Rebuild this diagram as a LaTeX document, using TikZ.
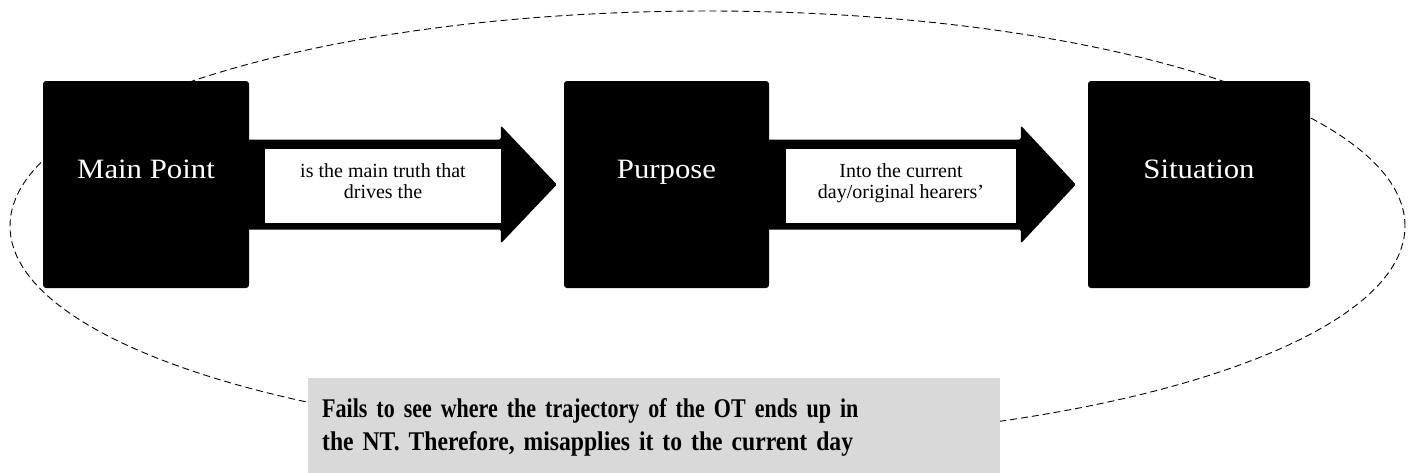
\documentclass[tikz,border=0pt]{standalone}
\usepackage{fontspec}
\setmainfont{Liberation Serif}
\newfontfamily\blockfont[FakeStretch=1.1]{Liberation Serif}
\newfontfamily\failfontA[FakeStretch=0.815]{Liberation Serif}
\newfontfamily\failfontB[FakeStretch=0.875]{Liberation Serif}
\usetikzlibrary{calc,shapes.geometric}
\definecolor{notegray}{HTML}{D9D9D9}
\begin{document}
\begin{tikzpicture}[x=1pt,y=-1pt,
  block/.style={fill=black, rounded corners=3pt, inner sep=0pt,
    minimum height=207pt, text=white,
    font=\blockfont\fontsize{28}{30}\selectfont, text height=20pt, text depth=33pt},
  arrowbody/.style={fill=black, rounded corners=1.5pt},
  note/.style={fill=white, inner sep=0pt, minimum width=236pt, minimum height=74pt,
    align=center, font=\fontsize{20}{21}\selectfont, text height=35pt, text depth=11pt},
  loopline/.style={draw, dash pattern=on 7pt off 4pt, line width=0.9pt,
    ellipse, inner sep=0pt, minimum width=1395pt, minimum height=430pt},
  failbox/.style={fill=notegray, anchor=north west, minimum width=692pt,
    minimum height=98pt, inner xsep=14pt, inner ysep=0pt, align=left,
    text width=664pt, font=\fontsize{27}{33}\bfseries\selectfont}
]
\useasboundingbox (0,0) rectangle (1414,472);

% dashed loop around the three stages
\node[loopline] (loop) at (707.5,226) {};

% the three stages
\node[block, minimum width=206pt] (main)      at (146,184.5)  {Main Point};
\node[block, minimum width=205pt] (purpose)   at (666.5,184.5) {Purpose};
\node[block, minimum width=222pt] (situation) at (1199,184.5) {Situation};

% block arrows between the stages
\fill[arrowbody] ($(main.east)+(-3,-45)$) -- ($(purpose.west)+(-63,-45)$)
  -- ($(purpose.west)+(-63,-59)$) -- ($(purpose.west)+(-7,0)$)
  -- ($(purpose.west)+(-63,59)$) -- ($(purpose.west)+(-63,45)$)
  -- ($(main.east)+(-3,45)$) -- cycle;
\fill[arrowbody] ($(purpose.east)+(-3,-45)$) -- ($(situation.west)+(-67,-45)$)
  -- ($(situation.west)+(-67,-59)$) -- ($(situation.west)+(-12,0)$)
  -- ($(situation.west)+(-67,59)$) -- ($(situation.west)+(-67,45)$)
  -- ($(purpose.east)+(-3,45)$) -- cycle;

% labels on the arrows
\node[note] (drives) at (383,186) {is the main truth that\\drives the};
\node[note, minimum width=230pt] (hearers) at (901,186) {Into the current\\day/original hearers’};

% explanatory note at the bottom
\node[failbox] (fails) at (308,378) {{\failfontA Fails to see where the trajectory of the OT ends up in}\\{\failfontB the NT. Therefore, misapplies it to the current day}};
\end{tikzpicture}
\end{document}
